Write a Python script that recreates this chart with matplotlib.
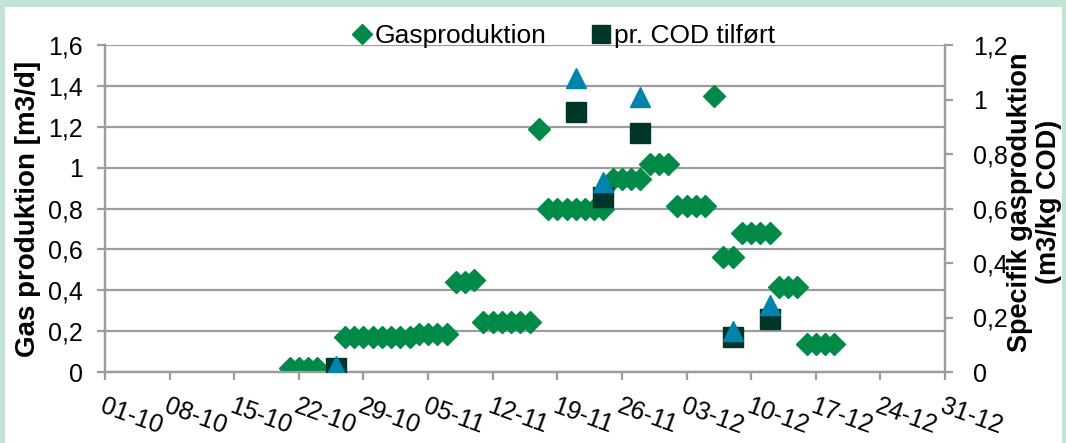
import datetime as dt
import matplotlib
matplotlib.use('Agg')
import matplotlib.pyplot as plt
import matplotlib.dates as mdates
from matplotlib.patches import Rectangle
from matplotlib.lines import Line2D
from matplotlib.ticker import FuncFormatter, MultipleLocator

plt.rcParams['font.family'] = ['Liberation Sans', 'DejaVu Sans']

YEAR = 2013

# daily gas production [m3/d]
gas_dates = ['21-10', '22-10', '23-10', '24-10',
             '27-10', '28-10', '29-10', '30-10', '31-10', '01-11', '02-11', '03-11',
             '04-11', '05-11', '06-11', '07-11',
             '08-11', '09-11', '10-11',
             '11-11', '12-11', '13-11', '14-11', '15-11', '16-11',
             '17-11',
             '18-11', '19-11', '20-11', '21-11', '22-11', '23-11', '24-11',
             '25-11', '26-11', '27-11', '28-11',
             '29-11', '30-11', '01-12',
             '02-12', '03-12', '04-12', '05-12',
             '06-12',
             '07-12', '08-12',
             '09-12', '10-12', '11-12', '12-12',
             '13-12', '14-12', '15-12',
             '16-12', '17-12', '18-12', '19-12']
gas_vals = [0.02, 0.02, 0.02, 0.02,
            0.17, 0.17, 0.17, 0.17, 0.17, 0.17, 0.17, 0.17,
            0.185, 0.185, 0.185, 0.185,
            0.44, 0.44, 0.45,
            0.245, 0.245, 0.245, 0.245, 0.245, 0.245,
            1.19,
            0.80, 0.80, 0.80, 0.80, 0.80, 0.80, 0.80,
            0.945, 0.945, 0.945, 0.945,
            1.02, 1.02, 1.02,
            0.81, 0.81, 0.81, 0.81,
            1.35,
            0.565, 0.565,
            0.68, 0.68, 0.68, 0.68,
            0.415, 0.415, 0.415,
            0.135, 0.135, 0.135, 0.135]

# specific gas production [m3/kg COD]
cod_dates = ['26-10', '21-11', '24-11', '28-11', '08-12', '12-12']
cod_vals = [0.014, 0.955, 0.643, 0.876, 0.13, 0.193]
tri_vals = [0.021, 1.078, 0.698, 1.008, 0.152, 0.246]

tick_dates = ['01-10', '08-10', '15-10', '22-10', '29-10', '05-11', '12-11',
              '19-11', '26-11', '03-12', '10-12', '17-12', '24-12', '31-12']


def to_date(s):
    d, m = s.split('-')
    return dt.datetime(YEAR, int(m), int(d))


gas_x = [to_date(s) for s in gas_dates]
cod_x = [to_date(s) for s in cod_dates]
ticks_x = [to_date(s) for s in tick_dates]

GREEN = '#008a47'
DARK = '#00362a'
BLUE = '#0084ad'
GRID = '#9c9c9c'
FS = 18

fig = plt.figure(figsize=(10.66, 4.43), dpi=100)
fig.patch.set_facecolor('#c2e4d5')
fig.patches.append(Rectangle((5 / 1066, 0), 1057 / 1066, 436 / 443,
                             transform=fig.transFigure, facecolor='white',
                             edgecolor='none', zorder=-5))

ax1 = fig.add_axes([105 / 1066, 71 / 443, 840 / 1066, 327 / 443])
ax2 = ax1.twinx()

ax1.plot(gas_x, gas_vals, linestyle='none', marker='D', markersize=11.5,
         color=GREEN, markeredgecolor=GREEN, zorder=3)
ax2.plot(cod_x, cod_vals, linestyle='none', marker='s', markersize=14,
         color=DARK, markeredgecolor=DARK, zorder=3)
ax2.plot(cod_x, tri_vals, linestyle='none', marker='^', markersize=14,
         color=BLUE, markeredgecolor=BLUE, zorder=4)

ax1.set_xlim(ticks_x[0], ticks_x[-1])
ax1.set_ylim(0, 1.6)
ax2.set_ylim(0, 1.2)
ax1.yaxis.set_major_locator(MultipleLocator(0.2))
ax2.yaxis.set_major_locator(MultipleLocator(0.2))


def comma(v, pos):
    if abs(v - round(v)) < 1e-9:
        return '%d' % round(v)
    return ('%.1f' % v).replace('.', ',')


ax1.yaxis.set_major_formatter(FuncFormatter(comma))
ax2.yaxis.set_major_formatter(FuncFormatter(comma))

ax1.set_xticks(ticks_x)
ax1.xaxis.set_major_formatter(mdates.DateFormatter('%d-%m'))
for lab in ax1.get_xticklabels():
    lab.set_rotation(-20)
    lab.set_ha('left')
    lab.set_va('top')
    lab.set_rotation_mode('anchor')

ax1.grid(axis='y', color=GRID, linewidth=1.6)
ax1.set_axisbelow(True)
for ax in (ax1, ax2):
    ax.spines['top'].set_visible(False)
    for s in ('left', 'right', 'bottom'):
        ax.spines[s].set_color(GRID)
        ax.spines[s].set_linewidth(1.6)
ax1.tick_params(axis='x', length=6, width=1.6, color=GRID, labelsize=FS, pad=10)
ax1.tick_params(axis='y', length=6, width=1.6, color=GRID, labelsize=FS, pad=10)
ax2.tick_params(axis='y', length=6, width=1.6, color=GRID, labelsize=FS, pad=14)

ax1.set_ylabel('Gas produktion [m3/d]', fontsize=20, fontweight='bold')
ax1.yaxis.set_label_coords(-0.076, 0.5)
ax2.set_ylabel('Specifik gasproduktion\n(m3/kg COD)', fontsize=19.5,
               fontweight='bold', rotation=90, linespacing=1.15)
ax2.yaxis.set_label_coords(1.074, 0.52)

handles = [Line2D([], [], linestyle='none', marker='D', markersize=10,
                  color=GREEN, label='Gasproduktion'),
           Line2D([], [], linestyle='none', marker='s', markersize=13,
                  color=DARK, label='pr. COD tilført')]
fig.legend(handles=handles, loc='center', bbox_to_anchor=(0.529, 0.918),
           ncol=2, frameon=False, fontsize=19, handlelength=0.7,
           handletextpad=0.15, columnspacing=1.7, borderaxespad=0)

fig.savefig('out.png', dpi=100)
